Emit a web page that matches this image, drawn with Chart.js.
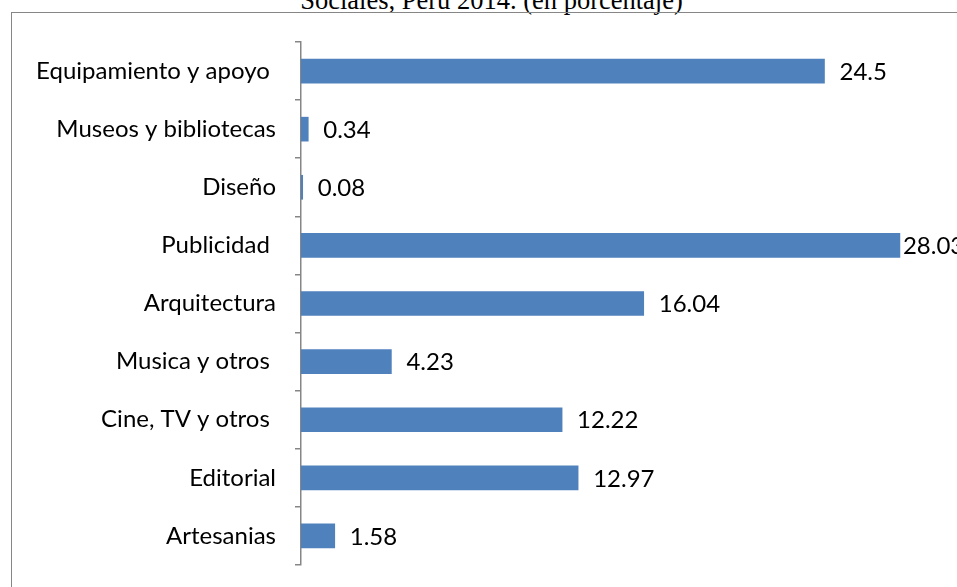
<!DOCTYPE html>
<html>
<head>
<meta charset="utf-8">
<script src="https://cdn.jsdelivr.net/npm/chart.js@4.4.0/dist/chart.umd.min.js"></script>
<style>
  html, body { margin: 0; padding: 0; background: #fff; overflow: hidden; }
  #wrap { position: relative; width: 957px; height: 587px; }
  #frame { position: absolute; left: 11px; top: 12px; width: 960px; height: 600px;
           border: 1.5px solid #868686; box-sizing: border-box; }
  #title { position: absolute; left: 0; width: 983px; top: -15px; line-height: 30px; text-align: center;
           font-family: "Liberation Serif", serif; font-size: 26.5px; color: #000; white-space: nowrap; }
  canvas { position: absolute; left: 0; top: 0; }
</style>
</head>
<body>
<div id="wrap">
  <div id="title">Sociales, Perú 2014. (en porcentaje)</div>
  <div id="frame"></div>
  <canvas id="myBarChart" width="957" height="587"></canvas>
</div>
<script>
// sectores y porcentajes
var sectores = ["Equipamiento y apoyo ", "Museos y bibliotecas", "Diseño", "Publicidad ",
                "Arquitectura", "Musica y otros ", "Cine, TV y otros ", "Editorial", "Artesanias"];
var porcentajes = [24.5, 0.34, 0.08, 28.03, 16.04, 4.23, 12.22, 12.97, 1.58];
var etiquetas = ["24.5", "0.34", "0.08", "28.03", "16.04", "4.23", "12.22", "12.97", "1.58"];

var labelFont = "24px Lato, sans-serif";

// value labels to the right of each bar
var valueLabels = {
  id: "valueLabels",
  afterDatasetsDraw: function(chart) {
    var ctx = chart.ctx;
    var meta = chart.getDatasetMeta(0);
    ctx.save();
    ctx.font = labelFont;
    ctx.fillStyle = "#000";
    ctx.textBaseline = "middle";
    ctx.textAlign = "left";
    meta.data.forEach(function(bar, i) {
      var txt = etiquetas[i];
      var x = bar.x + 15;
      if (x + ctx.measureText(txt).width > chart.width) x = bar.x + 3;
      ctx.fillText(txt, x, bar.y + 1);
    });
    ctx.restore();
  }
};

var ctx = document.getElementById("myBarChart");
var chart = new Chart(ctx, {
  type: "bar",
  data: {
    labels: sectores,
    datasets: [{
      data: porcentajes,
      backgroundColor: "#4F81BD",
      borderWidth: 0,
      barThickness: 24
    }]
  },
  options: {
    indexAxis: "y",
    responsive: false,
    animation: false,
    layout: { padding: { left: 0, right: 15, top: 42, bottom: 22 } },
    plugins: {
      legend: { display: false },
      tooltip: { enabled: false }
    },
    scales: {
      x: {
        min: 0,
        max: 30,
        display: false
      },
      y: {
        afterFit: function(scale) {
          scale.width = 301;
          // labels sit inside their bands, no extra room needed above/below
          scale.paddingTop = 0;
          scale.paddingBottom = 0;
        },
        border: { display: true, color: "#868686", width: 1.5 },
        grid: {
          offset: true,
          drawOnChartArea: false,
          drawTicks: true,
          tickLength: 6,
          color: "#868686",
          lineWidth: 1.5
        },
        ticks: {
          padding: 19,
          color: "#000",
          font: { family: "Lato, sans-serif", size: 24 }
        }
      }
    }
  },
  plugins: [valueLabels]
});
</script>
</body>
</html>
